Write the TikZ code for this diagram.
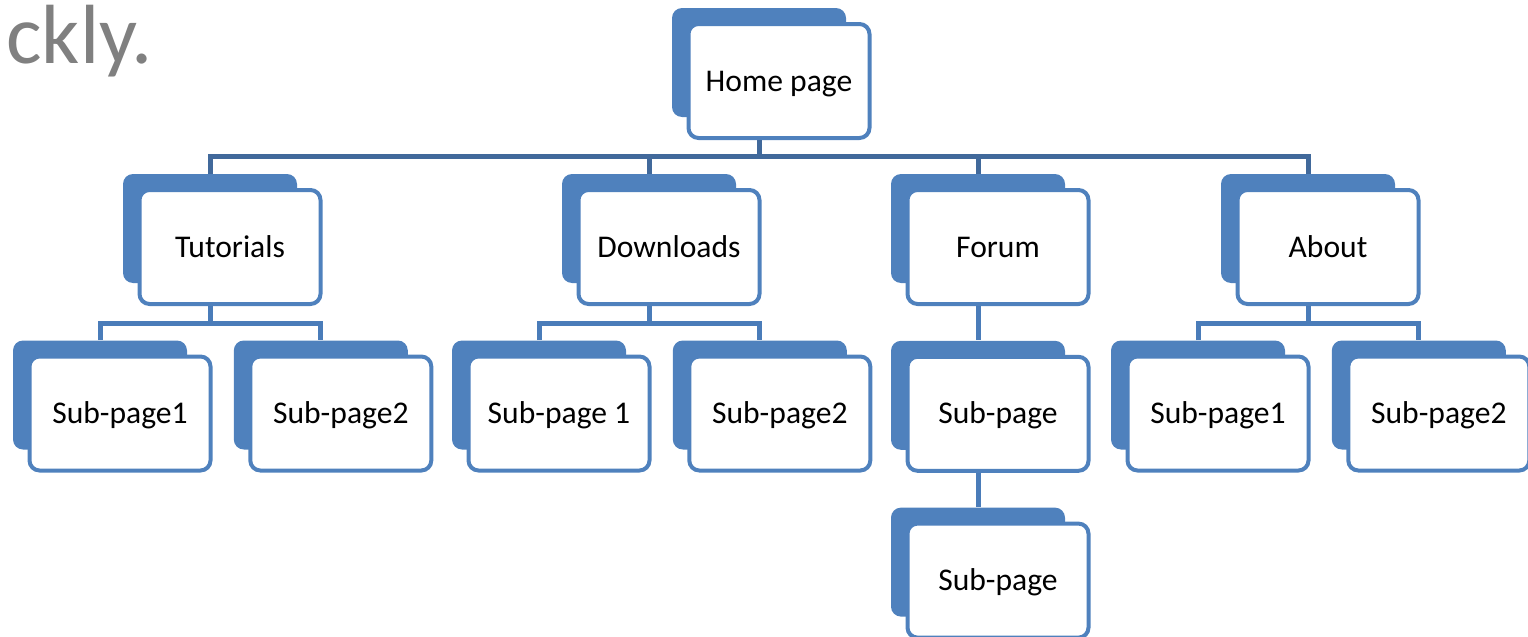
\documentclass[tikz,border=0pt]{standalone}
\usepackage{fontspec}
\setmainfont{Carlito}
\usepackage{xcolor}
\definecolor{PageBlue}{HTML}{4F81BD}
\definecolor{LineDark}{HTML}{41699B}
\definecolor{LineBlue}{HTML}{4A7CB9}
\definecolor{TitleGray}{HTML}{808080}
\usepackage{tikz}
\usetikzlibrary{positioning, calc}
\tikzset{
  % Box styles
  pageback/.style={rectangle, rounded corners=5pt, fill=PageBlue, minimum width=87pt, minimum height=54.5pt, inner sep=0pt},
  pagebox/.style={rectangle, rounded corners=5pt, draw=PageBlue, line width=2pt, fill=white, minimum width=90.5pt, minimum height=57pt, inner sep=0pt, font=\fontsize{15.8}{19}\selectfont, text height=11pt, text depth=1pt, xshift=10pt, yshift=-9.25pt},
  % Line styles
  topline/.style={draw=LineDark, line width=2.5pt},
  subline/.style={draw=LineBlue, line width=2.5pt}
}

\begin{document}
\begin{tikzpicture}
  \useasboundingbox (0,0) rectangle (764pt,-318.5pt);

  % Title fragment
  \node[anchor=base west, inner sep=0pt, font=\fontsize{42}{48}\selectfont, text=TitleGray] (title) at (3pt,-31.5pt) {ckly.};

  % Home page
  \node[pageback] (home) at (379.5pt,-31.25pt) {};
  \node[pagebox] (home-f) at (home) {Home page};

  % Main sections
  \node[pageback] (tut) at (105pt,-114.25pt) {};
  \node[pagebox] (tut-f) at (tut) {Tutorials};

  \node[pageback] (dl) at (324.5pt,-114.25pt) {};
  \node[pagebox] (dl-f) at (dl) {Downloads};

  \node[pageback] (forum) at (489pt,-114.25pt) {};
  \node[pagebox] (forum-f) at (forum) {Forum};

  \node[pageback] (about) at (654pt,-114.25pt) {};
  \node[pagebox] (about-f) at (about) {About};

  % Sub-pages
  \node[pageback] (tut1) at (50pt,-197.5pt) {};
  \node[pagebox] (tut1-f) at (tut1) {Sub-page1};

  \node[pageback, right=23pt of tut1] (tut2) {};
  \node[pagebox] (tut2-f) at (tut2) {Sub-page2};

  \node[pageback] (dl1) at (269.5pt,-197.5pt) {};
  \node[pagebox] (dl1-f) at (dl1) {Sub-page 1};

  \node[pageback, right=23pt of dl1] (dl2) {};
  \node[pagebox] (dl2-f) at (dl2) {Sub-page2};

  \node[pageback, below=28.5pt of forum] (forum1) {};
  \node[pagebox] (forum1-f) at (forum1) {Sub-page};

  \node[pageback, below=28.5pt of forum1] (forum2) {};
  \node[pagebox] (forum2-f) at (forum2) {Sub-page};

  \node[pageback] (about1) at (599pt,-197.5pt) {};
  \node[pagebox] (about1-f) at (about1) {Sub-page1};

  \node[pageback, right=23pt of about1] (about2) {};
  \node[pagebox] (about2-f) at (about2) {Sub-page2};

  % Connectors
  \coordinate (homebus) at ($(home-f.south -| home)!.5!(home |- tut.north)$);
  \draw[topline] (home-f.south -| home) -- (homebus);
  \draw[topline] (tut.north) |- (homebus) -| (about.north);
  \draw[topline] (dl.north) -- (dl |- homebus);
  \draw[topline] (forum.north) -- (forum |- homebus);

  \coordinate (tutbus) at ($(tut-f.south -| tut)!.5!(tut |- tut1.north)$);
  \draw[subline] (tut-f.south -| tut) -- (tutbus);
  \draw[subline] (tut1.north) |- (tutbus) -| (tut2.north);

  \coordinate (dlbus) at ($(dl-f.south -| dl)!.5!(dl |- dl1.north)$);
  \draw[subline] (dl-f.south -| dl) -- (dlbus);
  \draw[subline] (dl1.north) |- (dlbus) -| (dl2.north);

  \draw[subline] (forum-f.south -| forum) -- (forum1.north);
  \draw[subline] (forum1-f.south -| forum1) -- (forum2.north);

  \coordinate (aboutbus) at ($(about-f.south -| about)!.5!(about |- about1.north)$);
  \draw[subline] (about-f.south -| about) -- (aboutbus);
  \draw[subline] (about1.north) |- (aboutbus) -| (about2.north);
\end{tikzpicture}
\end{document}
